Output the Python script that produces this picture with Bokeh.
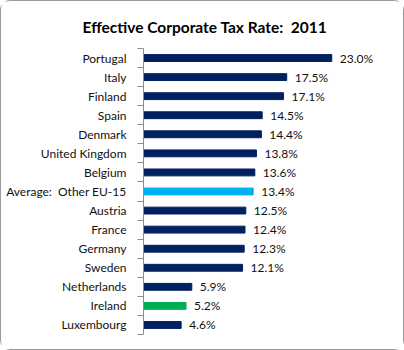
from bokeh.plotting import figure
from bokeh.models import Range1d, FixedTicker, CustomJSTickFormatter, ColumnDataSource
from bokeh.core.properties import value
from bokeh.embed import file_html
from bokeh.resources import INLINE

countries = ["Portugal", "Italy", "Finland", "Spain", "Denmark", "United Kingdom", "Belgium",
             "Average:  Other EU-15", "Austria", "France", "Germany", "Sweden",
             "Netherlands", "Ireland", "Luxembourg"]
rates = [23.0, 17.5, 17.1, 14.5, 14.4, 13.8, 13.6, 13.4, 12.5, 12.4, 12.3, 12.1, 5.9, 5.2, 4.6]
title_text = "Effective Corporate Tax Rate:  2011"

NAVY = "#002060"
highlight = {"Average:  Other EU-15": "#00B0F0", "Ireland": "#00B050"}

n = len(countries)
src = ColumnDataSource(dict(
    y=list(range(n)),
    rate=rates,
    name=countries,
    label=[f"{v:.1f}%" for v in rates],
    color=[highlight.get(c, NAVY) for c in countries],
))

p = figure(width=404, height=350, output_backend="svg", toolbar_location=None,
           x_range=Range1d(0, 30.3), y_range=Range1d(n - 0.5, -0.5),
           x_axis_location=None,
           min_border_left=142, min_border_right=14, min_border_top=47, min_border_bottom=17)

p.hbar(y="y", right="rate", left=0, height=0.36, color="color", source=src)
p.text(x="rate", y="y", text="label", source=src, x_offset=8, text_baseline="middle",
       text_align="left", text_font=value("Lato"), text_font_size="12px", text_color="#111111")

ax = p.yaxis[0]
ax.ticker = FixedTicker(ticks=list(range(n)), minor_ticks=[i - 0.5 for i in range(n + 1)])
ax.formatter = CustomJSTickFormatter(args=dict(names=[c.replace("  ", "\u00a0 ") for c in countries]),
                                     code="const i = Math.round(tick); return names[i] || '';")
ax.major_tick_out = 0
ax.major_tick_in = 0
ax.minor_tick_out = 6
ax.minor_tick_in = 0
ax.major_label_standoff = 11
ax.major_label_text_font = "Lato"
ax.major_label_text_font_size = "12px"
ax.major_label_text_color = "#111111"
ax.axis_line_color = "#8c8c8c"
ax.minor_tick_line_color = "#8c8c8c"

p.xgrid.visible = False
p.ygrid.visible = False
p.outline_line_color = None

p.title.text = title_text.replace("  ", "\u00a0 ")
p.title.align = "left"
p.title.offset = -61
p.title.vertical_align = "bottom"
p.title.standoff = 26
p.title.text_font = "Lato"
p.title.text_font_style = "bold"
p.title.text_font_size = "15.5px"
p.title.text_color = "#000000"

p.styles = {"border": "1px solid #9a9a9a", "border-radius": "10px", "box-sizing": "border-box"}

open("out.html", "w").write(file_html(p, INLINE))
